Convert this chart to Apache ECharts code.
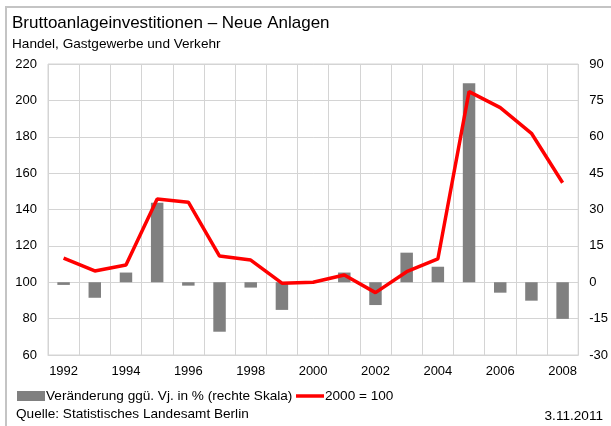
<!DOCTYPE html>
<html>
<head>
<meta charset="utf-8">
<script src="https://cdn.jsdelivr.net/npm/echarts@6/dist/echarts.min.js"></script>
<style>
    html,body{margin:0;padding:0;background:#fff;}
    #container{width:611px;height:426px;}
</style>
</head>
<body>
<div id="container"></div>
<script>
// Jahre
var years = ['1992','1993','1994','1995','1996','1997','1998','1999','2000',
             '2001','2002','2003','2004','2005','2006','2007','2008'];
// Veränderung ggü. Vorjahr in % (rechte Skala)
var changePct = [-1.1,-6.4,4.0,32.8,-1.4,-20.4,-2.2,-11.4,0.5,
                 4.0,-9.4,12.2,6.4,82.1,-4.3,-7.6,-15.1];
// Index 2000 = 100
var index2000 = [113.2,106.2,109.5,145.8,144.0,114.4,112.2,99.5,100,
                 104.0,94.3,105.8,112.8,204.8,196.0,181.9,154.7];

var barName = 'Ver\u00e4nderung gg\u00fc. Vj. in % (rechte Skala)';
var lineName = '2000 = 100';
var fontName = 'Liberation Sans';
var gridColor = '#d4d4d4';
var smallFont = 13.6;

var dom = document.getElementById("container");
var myChart = echarts.init(dom);
var option = {
    backgroundColor: '#ffffff',
    animation: false,
    textStyle: {fontFamily: fontName},
    title: [{
        text: 'Bruttoanlageinvestitionen \u2013 Neue Anlagen',
        left: 7, top: 10,
        textStyle: {fontFamily: fontName, fontSize: 17, fontWeight: 'normal', color: '#000'}
    }, {
        text: 'Handel, Gastgewerbe und Verkehr',
        left: 7, top: 32,
        textStyle: {fontFamily: fontName, fontSize: smallFont, fontWeight: 'normal', color: '#000'}
    }, {
        text: 'Quelle: Statistisches Landesamt Berlin',
        left: 11, top: 402,
        textStyle: {fontFamily: fontName, fontSize: smallFont, fontWeight: 'normal', color: '#000'}
    }, {
        text: '3.11.2011',
        right: 3, top: 404,
        textStyle: {fontFamily: fontName, fontSize: smallFont, fontWeight: 'normal', color: '#000'}
    }],
    legend: [{
        left: 12, top: 384,
        itemWidth: 28,
        itemHeight: 10,
        textStyle: {fontFamily: fontName, fontSize: smallFont, color: '#000', padding: [0, 0, 0, -4]},
        data: [{name: barName, icon: 'rect'}]
    }, {
        left: 291, top: 384,
        itemWidth: 28,
        itemHeight: 3.5,
        textStyle: {fontFamily: fontName, fontSize: smallFont, color: '#000', padding: [0, 0, 0, -4]},
        data: [{name: lineName, icon: 'rect', itemStyle: {color: '#ff0000'}}]
    }],
    grid: {
        left: 48, right: 31, top: 64, bottom: 71,
        show: true, borderColor: gridColor, borderWidth: 1
    },
    xAxis: {
        type: 'category',
        data: years,
        boundaryGap: true,
        axisLine: {show: true, onZero: false, lineStyle: {color: gridColor}},
        axisTick: {show: false},
        axisLabel: {interval: 1, margin: 10, fontSize: 13, color: '#000', fontFamily: fontName},
        splitLine: {show: true, interval: 0, lineStyle: {color: gridColor, width: 1}}
    },
    yAxis: [{
        type: 'value',
        min: 60, max: 220, interval: 20,
        axisLine: {show: false},
        axisTick: {show: false},
        axisLabel: {margin: 11, fontSize: 13, color: '#000', fontFamily: fontName},
        splitLine: {show: true, lineStyle: {color: gridColor, width: 1}}
    }, {
        type: 'value',
        min: -30, max: 90, interval: 15,
        axisLine: {show: false},
        axisTick: {show: false},
        axisLabel: {margin: 11, fontSize: 13, color: '#000', fontFamily: fontName},
        splitLine: {show: false}
    }],
    series: [{
        name: barName,
        type: 'bar',
        yAxisIndex: 1,
        barWidth: '40%',
        itemStyle: {color: '#808080'},
        data: changePct
    }, {
        name: lineName,
        type: 'line',
        yAxisIndex: 0,
        symbol: 'none',
        showSymbol: false,
        lineStyle: {color: '#ff0000', width: 3.5},
        itemStyle: {color: '#ff0000'},
        data: index2000
    }],
    graphic: [{
        type: 'polyline',
        silent: true,
        shape: {points: [[6, 426], [6, 7], [611, 7]]},
        style: {stroke: '#c4c4c4', lineWidth: 2, fill: null}
    }]
};
myChart.setOption(option, true);
</script>
</body>
</html>
